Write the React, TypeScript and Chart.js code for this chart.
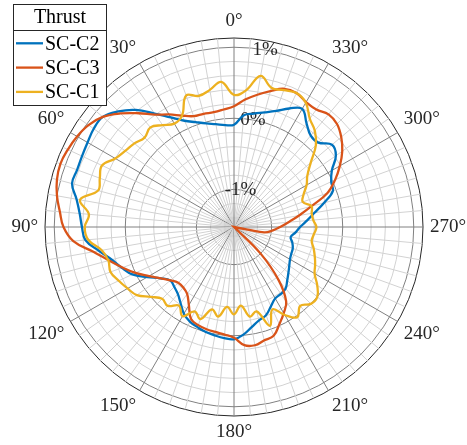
import { useEffect, useRef } from "react";
import { Chart, registerables } from "chart.js";

Chart.register(...registerables);

// Directions (degrees, counter-clockwise from 0° at the top) at which each series is sampled
const SAMPLE_ANGLES = [
  0, 5, 10, 15, 20, 25, 30, 35, 40, 45, 50, 55, 60, 65, 70, 75, 80, 85,
  90, 95, 100, 105, 110, 115, 120, 125, 130, 135, 140, 145, 150, 155, 160, 165, 170, 175,
  180, 185, 190, 195, 200, 205, 210, 215, 220, 225, 230, 235, 240, 245, 250, 255, 260, 265,
  270, 275, 280, 285, 290, 295, 300, 305, 310, 315, 320, 325, 330, 335, 340, 345, 350, 355,
];

// Thrust variation in %, one value per sample direction
const SC_C2 = [
  -0.09, -0.09, -0.06, -0.02, 0.04, 0.12, 0.25, 0.42, 0.62, 0.77, 0.88, 0.88, 0.85, 0.83, 0.82, 0.83, 0.72, 0.65,
  0.61, 0.57, 0.4, 0.25, 0.15, 0.05, -0.12, -0.27, -0.36, -0.34, -0.3, -0.22, -0.12, -0.06, -0.03, 0.0, 0.02, 0.04,
  0.05, -0.01, -0.1, -0.17, -0.21, -0.3, -0.37, -0.38, -0.4, -0.47, -0.53, -0.58, -0.62, -0.64, -0.65, -0.68, -0.72, -0.66,
  -0.6, -0.5, -0.38, -0.22, -0.05, -0.02, 0.06, 0.22, 0.27, 0.15, 0.15, 0.25, 0.39, 0.31, 0.21, 0.14, 0.09, 0.05,
];
const SC_C3 = [
  0.17, 0.13, 0.11, 0.12, 0.13, 0.2, 0.3, 0.4, 0.56, 0.73, 0.88, 0.97, 1.02, 1.05, 1.07, 1.05, 1.0, 0.93,
  0.87, 0.74, 0.48, 0.29, 0.14, 0.0, -0.15, -0.27, -0.36, -0.42, -0.42, -0.38, -0.26, -0.1, -0.06, -0.04, -0.03, -0.01,
  0.03, 0.14, 0.16, 0.12, 0.1, -0.02, -0.13, -0.25, -0.55, -1.0, -1.53, -1.53, -1.53, -1.53, -1.53, -1.53, -1.1, -0.98,
  -0.88, -0.76, -0.6, -0.4, -0.13, 0.04, 0.19, 0.33, 0.44, 0.52, 0.54, 0.49, 0.5, 0.55, 0.54, 0.45, 0.36, 0.27,
];
const SC_C1 = [
  0.33, 0.52, 0.43, 0.38, 0.44, 0.2, 0.15, 0.22, 0.3, 0.25, 0.3, 0.34, 0.4, 0.52, 0.48, 0.45, 0.67, 0.52,
  0.57, 0.53, 0.36, 0.3, 0.32, 0.26, 0.2, 0.14, 0.0, -0.1, -0.08, -0.18, -0.08, -0.22, -0.15, -0.33, -0.25, -0.4,
  -0.3, -0.42, -0.25, -0.3, -0.05, -0.25, -0.1, 0.02, -0.08, 0.0, 0.0, -0.1, -0.22, -0.27, -0.32, -0.37, -0.42, -0.4,
  -0.37, -0.41, -0.42, -0.4, -0.5, -0.45, -0.35, -0.27, -0.12, 0.1, 0.24, 0.33, 0.49, 0.55, 0.52, 0.5, 0.63, 0.4,
];

const SERIES_NAMES = ["SC-C2", "SC-C3", "SC-C1"];
const SERIES_VALUES = [SC_C2, SC_C3, SC_C1];
const SERIES_COLORS = ["#0072BD", "#D95319", "#EDB120"];
const LEGEND_TITLE = "Thrust";

// Angular tick labels (degrees) and labelled radius ticks (%)
const ANGLE_TICKS = [0, 30, 60, 90, 120, 150, 180, 210, 240, 270, 300, 330];
const RADIUS_TICKS = [-1, 0, 1];
const RADIUS_MINOR = [-1.4, -1.2, -1.0, -0.8, -0.6, -0.4, -0.2, 0, 0.2, 0.4, 0.6, 0.8, 1.0];
const R_MIN = -1.53;
const R_MAX = 1.13;

const FONT = '"Liberation Serif", "Times New Roman", serif';
const TEXT_COLOR = "#262626";
const MINOR_GRID = "#d2d2d2";
const MAJOR_GRID = "#808080";

// One radar category per degree; category i points (360 - i) degrees counter-clockwise from the top
const DIRECTION_COUNT = 360;
const directionOf = (i: number) => (DIRECTION_COUNT - i) % DIRECTION_COUNT;

function toRadarData(values: number[]): (number | null)[] {
  const out: (number | null)[] = new Array(DIRECTION_COUNT).fill(null);
  SAMPLE_ANGLES.forEach((a, k) => {
    out[(DIRECTION_COUNT - a) % DIRECTION_COUNT] = values[k];
  });
  return out;
}

const isMajorValue = (v: number) => RADIUS_TICKS.some((t) => Math.abs(t - v) < 1e-6);

const polarText = {
  id: "polarText",
  beforeDatasetsDraw(chart: any) {
    const scale = chart.scales.r;
    const ctx = chart.ctx as CanvasRenderingContext2D;
    ctx.save();
    ctx.fillStyle = TEXT_COLOR;
    ctx.font = `19px ${FONT}`;
    // angle labels just outside the outer circle
    const labelDist = scale.drawingArea + 7;
    ANGLE_TICKS.forEach((a) => {
      const rad = (a * Math.PI) / 180;
      const s = Math.sin(rad);
      const c = Math.cos(rad);
      const x = scale.xCenter - labelDist * s;
      const y = scale.yCenter - labelDist * c;
      ctx.textAlign = Math.abs(s) < 1e-6 ? "center" : s > 0 ? "right" : "left";
      ctx.textBaseline = Math.abs(c) < 1e-6 ? "middle" : c > 0 ? "bottom" : "top";
      ctx.fillText(`${a}°`, x, y);
    });
    // radius labels along the 350° direction
    const rad = (350 * Math.PI) / 180;
    ctx.textAlign = "center";
    ctx.textBaseline = "middle";
    RADIUS_TICKS.forEach((v) => {
      const d = scale.getDistanceFromCenterForValue(v);
      const x = scale.xCenter - d * Math.sin(rad);
      const y = scale.yCenter - d * Math.cos(rad);
      ctx.fillText(`${v}%`, x, y);
    });
    ctx.restore();
  },
};

const legendBox = {
  id: "legendBox",
  afterDraw(chart: any) {
    const ctx = chart.ctx as CanvasRenderingContext2D;
    const x0 = 13.5;
    const y0 = 4.5;
    const w = 93;
    const h = 101;
    ctx.save();
    ctx.fillStyle = "#ffffff";
    ctx.fillRect(x0, y0, w, h);
    ctx.strokeStyle = TEXT_COLOR;
    ctx.lineWidth = 1;
    ctx.strokeRect(x0, y0, w, h);
    ctx.beginPath();
    ctx.moveTo(x0, 30.5);
    ctx.lineTo(x0 + w, 30.5);
    ctx.stroke();
    ctx.font = `20px ${FONT}`;
    ctx.fillStyle = "#000000";
    ctx.textBaseline = "alphabetic";
    ctx.textAlign = "center";
    ctx.fillText(LEGEND_TITLE, x0 + w / 2, 23);
    ctx.textAlign = "left";
    chart.data.datasets.forEach((ds: any, i: number) => {
      const y = 43.3 + i * 24.3;
      ctx.strokeStyle = ds.borderColor;
      ctx.lineWidth = 2.3;
      ctx.beginPath();
      ctx.moveTo(16, y);
      ctx.lineTo(43, y);
      ctx.stroke();
      ctx.fillText(ds.label, 45, y + 6.5);
    });
    ctx.restore();
  },
};

export default function App() {
  const canvasRef = useRef<HTMLCanvasElement>(null);

  useEffect(() => {
    const canvas = canvasRef.current;
    if (!canvas) return;
    const labels = Array.from({ length: DIRECTION_COUNT }, (_, i) => `${directionOf(i)}°`);
    const chart = new Chart(canvas, {
      type: "radar",
      data: {
        labels,
        datasets: SERIES_NAMES.map((name, k) => ({
          label: name,
          data: toRadarData(SERIES_VALUES[k]),
          borderColor: SERIES_COLORS[k],
          backgroundColor: "rgba(0,0,0,0)",
          borderWidth: 2.3,
          pointRadius: 0,
          fill: false,
          spanGaps: true,
          tension: 0.4,
          order: SERIES_NAMES.length - k,
        })),
      },
      options: {
        responsive: false,
        animation: false,
        devicePixelRatio: 1,
        layout: { padding: { left: 45, top: 38, right: 44, bottom: 29 } },
        plugins: { legend: { display: false }, tooltip: { enabled: false } },
        elements: { point: { radius: 0 } },
        scales: {
          r: {
            min: R_MIN,
            max: R_MAX,
            beginAtZero: false,
            startAngle: 0,
            afterBuildTicks: (scale: any) => {
              scale.ticks = [...RADIUS_MINOR, R_MAX].map((v) => ({ value: v }));
            },
            ticks: { display: false },
            pointLabels: { display: false },
            grid: {
              circular: true,
              lineWidth: 1,
              color: (ctx: any) => {
                const v = ctx.tick ? ctx.tick.value : 0;
                if (Math.abs(v - R_MAX) < 1e-6) return TEXT_COLOR;
                return isMajorValue(v) ? MAJOR_GRID : MINOR_GRID;
              },
            },
            angleLines: {
              display: true,
              color: (ctx: any) => (directionOf(ctx.index) % 30 === 0 ? MAJOR_GRID : MINOR_GRID),
              lineWidth: (ctx: any) => (directionOf(ctx.index) % 5 === 0 ? 1 : 0),
            },
          },
        },
      },
      plugins: [polarText, legendBox],
    } as any);
    return () => chart.destroy();
  }, []);

  return (
    <div style={{ position: "fixed", left: 0, top: 0, width: 467, height: 445, background: "#ffffff" }}>
      <canvas ref={canvasRef} width={467} height={445} style={{ display: "block" }} />
    </div>
  );
}
